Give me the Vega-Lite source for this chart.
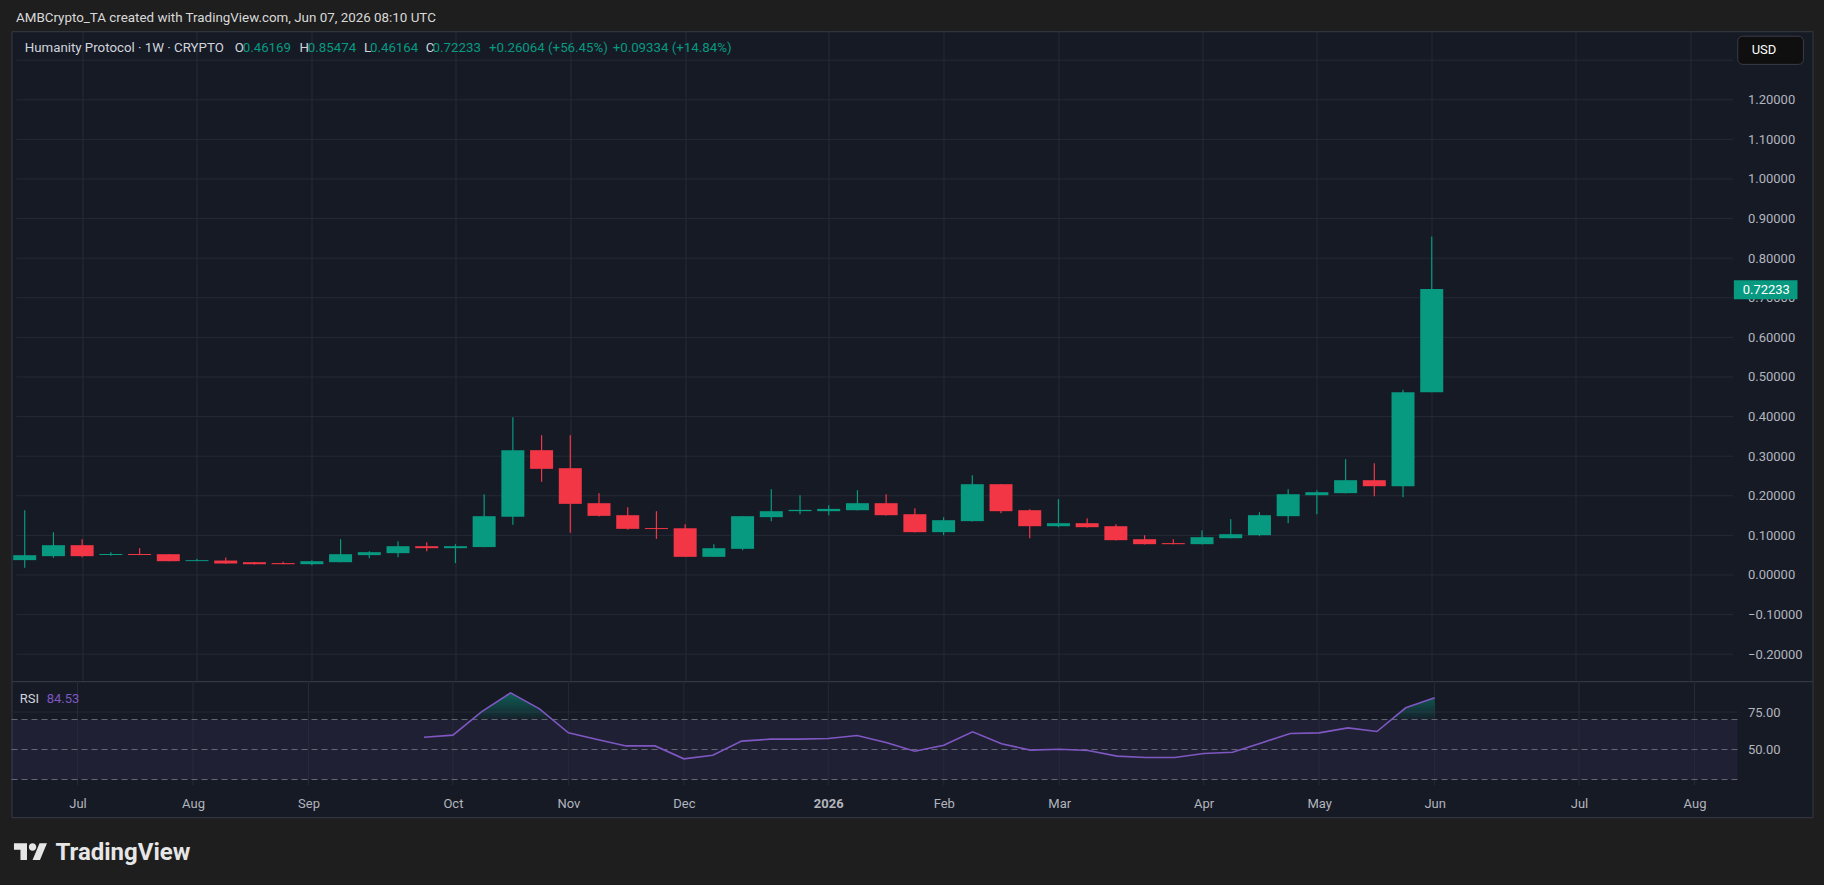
{
  "$schema": "https://vega.github.io/schema/vega-lite/v6.json",
  "background": "#1e1e1e",
  "padding": {"left": 10.5, "top": 10.2, "right": 12, "bottom": 25},
  "bounds": "flush",
  "spacing": 0,
  "config": {
    "font": "Roboto",
    "view": {"stroke": null},
    "axis": {"labelFont": "Roboto", "labelColor": "#b2b5be", "labelFontSize": 13, "title": null}
  },
  "datasets": {
    "candles": [
      {"w": "2025-06-23", "o": 0.0375, "h": 0.1636, "l": 0.018, "c": 0.05},
      {"w": "2025-06-30", "o": 0.0475, "h": 0.108, "l": 0.043, "c": 0.0753},
      {"w": "2025-07-07", "o": 0.0753, "h": 0.0904, "l": 0.045, "c": 0.0475},
      {"w": "2025-07-14", "o": 0.0505, "h": 0.0576, "l": 0.0483, "c": 0.053},
      {"w": "2025-07-21", "o": 0.053, "h": 0.0677, "l": 0.05, "c": 0.0505},
      {"w": "2025-07-28", "o": 0.0525, "h": 0.053, "l": 0.0345, "c": 0.0348},
      {"w": "2025-08-04", "o": 0.035, "h": 0.041, "l": 0.0345, "c": 0.0375},
      {"w": "2025-08-11", "o": 0.0365, "h": 0.0441, "l": 0.0285, "c": 0.029},
      {"w": "2025-08-18", "o": 0.0323, "h": 0.033, "l": 0.0265, "c": 0.0272},
      {"w": "2025-08-25", "o": 0.03, "h": 0.0332, "l": 0.0268, "c": 0.0272},
      {"w": "2025-09-01", "o": 0.0272, "h": 0.037, "l": 0.0247, "c": 0.0348},
      {"w": "2025-09-08", "o": 0.0323, "h": 0.0904, "l": 0.032, "c": 0.0525},
      {"w": "2025-09-15", "o": 0.0501, "h": 0.0601, "l": 0.0424, "c": 0.0576},
      {"w": "2025-09-22", "o": 0.0551, "h": 0.0854, "l": 0.045, "c": 0.0727},
      {"w": "2025-09-29", "o": 0.0727, "h": 0.0829, "l": 0.0601, "c": 0.0677},
      {"w": "2025-10-06", "o": 0.0677, "h": 0.0778, "l": 0.03, "c": 0.0727},
      {"w": "2025-10-13", "o": 0.0705, "h": 0.204, "l": 0.07, "c": 0.1485},
      {"w": "2025-10-20", "o": 0.1468, "h": 0.3985, "l": 0.1266, "c": 0.3152},
      {"w": "2025-10-27", "o": 0.3152, "h": 0.353, "l": 0.2352, "c": 0.268},
      {"w": "2025-11-03", "o": 0.2697, "h": 0.353, "l": 0.1064, "c": 0.1796},
      {"w": "2025-11-10", "o": 0.1813, "h": 0.2066, "l": 0.148, "c": 0.1493},
      {"w": "2025-11-17", "o": 0.151, "h": 0.1712, "l": 0.114, "c": 0.1165},
      {"w": "2025-11-24", "o": 0.1185, "h": 0.1611, "l": 0.0912, "c": 0.116},
      {"w": "2025-12-01", "o": 0.118, "h": 0.1283, "l": 0.0455, "c": 0.0458},
      {"w": "2025-12-08", "o": 0.0458, "h": 0.0778, "l": 0.0455, "c": 0.0677},
      {"w": "2025-12-15", "o": 0.066, "h": 0.1485, "l": 0.0626, "c": 0.1485},
      {"w": "2025-12-22", "o": 0.146, "h": 0.2167, "l": 0.1359, "c": 0.1611},
      {"w": "2025-12-29", "o": 0.1612, "h": 0.2015, "l": 0.1535, "c": 0.1645},
      {"w": "2026-01-05", "o": 0.1611, "h": 0.1763, "l": 0.151, "c": 0.1669},
      {"w": "2026-01-12", "o": 0.1636, "h": 0.2141, "l": 0.163, "c": 0.1813},
      {"w": "2026-01-19", "o": 0.1813, "h": 0.204, "l": 0.15, "c": 0.151},
      {"w": "2026-01-26", "o": 0.1535, "h": 0.1687, "l": 0.107, "c": 0.1081},
      {"w": "2026-02-02", "o": 0.1081, "h": 0.146, "l": 0.1005, "c": 0.1384},
      {"w": "2026-02-09", "o": 0.1359, "h": 0.252, "l": 0.135, "c": 0.2293},
      {"w": "2026-02-16", "o": 0.2293, "h": 0.2295, "l": 0.156, "c": 0.1611},
      {"w": "2026-02-23", "o": 0.1636, "h": 0.166, "l": 0.0929, "c": 0.1232},
      {"w": "2026-03-02", "o": 0.1232, "h": 0.1914, "l": 0.1207, "c": 0.1308},
      {"w": "2026-03-09", "o": 0.1308, "h": 0.1434, "l": 0.12, "c": 0.1207},
      {"w": "2026-03-16", "o": 0.1232, "h": 0.1283, "l": 0.087, "c": 0.0879},
      {"w": "2026-03-23", "o": 0.0904, "h": 0.1005, "l": 0.077, "c": 0.0778},
      {"w": "2026-03-30", "o": 0.0805, "h": 0.0904, "l": 0.0775, "c": 0.0778},
      {"w": "2026-04-06", "o": 0.0778, "h": 0.1131, "l": 0.077, "c": 0.0955},
      {"w": "2026-04-13", "o": 0.0929, "h": 0.1409, "l": 0.0925, "c": 0.103},
      {"w": "2026-04-20", "o": 0.1005, "h": 0.1586, "l": 0.098, "c": 0.151},
      {"w": "2026-04-27", "o": 0.1485, "h": 0.2167, "l": 0.1308, "c": 0.204},
      {"w": "2026-05-04", "o": 0.2015, "h": 0.2141, "l": 0.1536, "c": 0.2091},
      {"w": "2026-05-11", "o": 0.2066, "h": 0.2924, "l": 0.206, "c": 0.2394},
      {"w": "2026-05-18", "o": 0.2394, "h": 0.2823, "l": 0.199, "c": 0.2242},
      {"w": "2026-05-25", "o": 0.2242, "h": 0.468, "l": 0.1965, "c": 0.4617},
      {"w": "2026-06-01", "o": 0.46169, "h": 0.85474, "l": 0.46164, "c": 0.72233}
    ],
    "rsi": [
      {"w": "2025-09-29", "rsi": 58.2},
      {"w": "2025-10-06", "rsi": 59.6},
      {"w": "2025-10-13", "rsi": 75.3},
      {"w": "2025-10-20", "rsi": 87.8},
      {"w": "2025-10-27", "rsi": 77.1},
      {"w": "2025-11-03", "rsi": 61.1},
      {"w": "2025-11-10", "rsi": 56.7},
      {"w": "2025-11-17", "rsi": 52.4},
      {"w": "2025-11-24", "rsi": 52.4},
      {"w": "2025-12-01", "rsi": 43.8},
      {"w": "2025-12-08", "rsi": 46.2},
      {"w": "2025-12-15", "rsi": 55.6},
      {"w": "2025-12-22", "rsi": 56.9},
      {"w": "2025-12-29", "rsi": 56.9},
      {"w": "2026-01-05", "rsi": 57.3},
      {"w": "2026-01-12", "rsi": 59.3},
      {"w": "2026-01-19", "rsi": 54.7},
      {"w": "2026-01-26", "rsi": 48.9},
      {"w": "2026-02-02", "rsi": 52.9},
      {"w": "2026-02-09", "rsi": 61.8},
      {"w": "2026-02-16", "rsi": 53.8},
      {"w": "2026-02-23", "rsi": 49.6},
      {"w": "2026-03-02", "rsi": 50.2},
      {"w": "2026-03-09", "rsi": 49.3},
      {"w": "2026-03-16", "rsi": 45.6},
      {"w": "2026-03-23", "rsi": 44.7},
      {"w": "2026-03-30", "rsi": 44.7},
      {"w": "2026-04-06", "rsi": 47.3},
      {"w": "2026-04-13", "rsi": 48.2},
      {"w": "2026-04-20", "rsi": 54.4},
      {"w": "2026-04-27", "rsi": 60.7},
      {"w": "2026-05-04", "rsi": 61.1},
      {"w": "2026-05-11", "rsi": 64.4},
      {"w": "2026-05-18", "rsi": 62.0},
      {"w": "2026-05-25", "rsi": 77.8},
      {"w": "2026-06-01", "rsi": 84.53}
    ],
    "months": [
      {"w": "2025-07-07"}, {"w": "2025-08-04"}, {"w": "2025-09-01"}, {"w": "2025-10-06"},
      {"w": "2025-11-03"}, {"w": "2025-12-01"}, {"w": "2026-01-05"}, {"w": "2026-02-02"},
      {"w": "2026-03-02"}, {"w": "2026-04-06"}, {"w": "2026-05-04"}, {"w": "2026-06-01"},
      {"w": "2026-07-06"}, {"w": "2026-08-03"}
    ],
    "levels": [
      {"p": -0.2}, {"p": -0.1}, {"p": 0}, {"p": 0.1}, {"p": 0.2}, {"p": 0.3}, {"p": 0.4}, {"p": 0.5},
      {"p": 0.6}, {"p": 0.7}, {"p": 0.8}, {"p": 0.9}, {"p": 1.0}, {"p": 1.1}, {"p": 1.2}, {"p": 1.3}
    ],
    "legend": [
      {"t": "2025-06-23T00:00:00Z", "s": "Humanity Protocol · 1W · CRYPTO", "k": "label"},
      {"t": "2025-08-13T04:50:00Z", "s": "O", "k": "label"},
      {"t": "2025-08-15T03:20:00Z", "s": "0.46169", "k": "value"},
      {"t": "2025-08-28T23:30:00Z", "s": "H", "k": "label"},
      {"t": "2025-08-31T00:30:00Z", "s": "0.85474", "k": "value"},
      {"t": "2025-09-13T17:15:00Z", "s": "L", "k": "label"},
      {"t": "2025-09-15T04:00:00Z", "s": "0.46164", "k": "value"},
      {"t": "2025-09-28T18:00:00Z", "s": "C", "k": "label"},
      {"t": "2025-09-30T10:30:00Z", "s": "0.72233", "k": "value"},
      {"t": "2025-10-14T04:00:00Z", "s": "+0.26064 (+56.45%)", "k": "value"},
      {"t": "2025-11-13T07:40:00Z", "s": "+0.09334 (+14.84%)", "k": "value"}
    ]
  },
  "vconcat": [
    {
      "width": 1801,
      "height": 650,
      "view": {"fill": "#161a25", "stroke": "#363a45"},
      "layer": [
        {
          "data": {"name": "levels"},
          "mark": {"type": "rule", "color": "#262a36", "strokeWidth": 1},
          "encoding": {
            "y": {
              "field": "p", "type": "quantitative",
              "scale": {"domain": [-0.2682, 1.3732], "nice": false, "zero": false},
              "axis": {
                "orient": "right", "offset": -75, "grid": false, "ticks": false, "domain": false,
                "labelPadding": 10, "format": ".5f", "zindex": 0,
                "values": [-0.2, -0.1, 0, 0.1, 0.2, 0.3, 0.4, 0.5, 0.6, 0.7, 0.8, 0.9, 1.0, 1.1, 1.2]
              }
            },
            "x": {
              "datum": {"year": 2025, "month": 6, "date": 21, "utc": true}, "type": "temporal",
              "scale": {
                "domain": [
                  {"year": 2025, "month": 6, "date": 21, "utc": true},
                  {"year": 2026, "month": 8, "date": 31, "hours": 14, "minutes": 24, "utc": true}
                ],
                "nice": false
              },
              "axis": {
                "orient": "bottom", "grid": true, "gridColor": "#262a36", "labels": false, "ticks": false, "domain": false,
                "values": [
                  {"year": 2025, "month": 7, "date": 7, "utc": true},
                  {"year": 2025, "month": 8, "date": 4, "utc": true},
                  {"year": 2025, "month": 9, "date": 1, "utc": true},
                  {"year": 2025, "month": 10, "date": 6, "utc": true},
                  {"year": 2025, "month": 11, "date": 3, "utc": true},
                  {"year": 2025, "month": 12, "date": 1, "utc": true},
                  {"year": 2026, "month": 1, "date": 5, "utc": true},
                  {"year": 2026, "month": 2, "date": 2, "utc": true},
                  {"year": 2026, "month": 3, "date": 2, "utc": true},
                  {"year": 2026, "month": 4, "date": 6, "utc": true},
                  {"year": 2026, "month": 5, "date": 4, "utc": true},
                  {"year": 2026, "month": 6, "date": 1, "utc": true},
                  {"year": 2026, "month": 7, "date": 6, "utc": true},
                  {"year": 2026, "month": 8, "date": 3, "utc": true}
                ]
              }
            },
            "x2": {"datum": {"year": 2026, "month": 8, "date": 13, "hours": 9, "minutes": 50, "utc": true}}
          }
        },
        {
          "data": {"name": "candles"},
          "mark": {"type": "rule", "strokeWidth": 1.2},
          "encoding": {
            "x": {"field": "w", "type": "temporal"},
            "y": {"field": "l", "type": "quantitative"},
            "y2": {"field": "h"},
            "color": {"condition": {"test": "datum.c >= datum.o", "value": "#089981"}, "value": "#f23645"}
          }
        },
        {
          "data": {"name": "candles"},
          "mark": {"type": "bar", "size": 23},
          "encoding": {
            "x": {"field": "w", "type": "temporal"},
            "y": {"field": "o", "type": "quantitative"},
            "y2": {"field": "c"},
            "color": {"condition": {"test": "datum.c >= datum.o", "value": "#089981"}, "value": "#f23645"}
          }
        },
        {
          "data": {"values": [{"t": "2025-06-20T21:00:00Z", "s": "AMBCrypto_TA created with TradingView.com, Jun 07, 2026 08:10 UTC"}]},
          "mark": {"type": "text", "align": "left", "baseline": "middle", "fontSize": 13.4, "color": "#d9d9d9"},
          "encoding": {
            "x": {"field": "t", "type": "temporal"},
            "y": {"datum": 1.4068, "type": "quantitative"},
            "text": {"field": "s"}
          }
        },
        {
          "data": {"name": "legend"},
          "mark": {"type": "text", "align": "left", "baseline": "middle", "fontSize": 13.3},
          "encoding": {
            "x": {"field": "t", "type": "temporal"},
            "y": {"datum": 1.3311, "type": "quantitative"},
            "text": {"field": "s"},
            "color": {"condition": {"test": "datum.k == 'label'", "value": "#d1d4dc"}, "value": "#089981"}
          }
        },
        {
          "data": {"values": [{"a": "2026-08-14T14:24:00Z", "b": "2026-08-30T14:53:00Z"}]},
          "mark": {"type": "rect", "fill": "#0f0f0f", "stroke": "#3a3d46", "strokeWidth": 1, "cornerRadius": 5},
          "encoding": {
            "x": {"field": "a", "type": "temporal"},
            "x2": {"field": "b"},
            "y": {"datum": 1.3606, "type": "quantitative"},
            "y2": {"datum": 1.2894}
          }
        },
        {
          "data": {"values": [{"t": "2026-08-21T00:00:00Z", "s": "USD"}]},
          "mark": {"type": "text", "align": "center", "baseline": "middle", "fontSize": 13, "color": "#ffffff"},
          "encoding": {
            "x": {"field": "t", "type": "temporal"},
            "y": {"datum": 1.3253, "type": "quantitative"},
            "text": {"field": "s"}
          }
        },
        {
          "data": {"values": [{"a": "2026-08-13T15:36:00Z", "b": "2026-08-29T03:50:00Z"}]},
          "mark": {"type": "rect", "fill": "#089981"},
          "encoding": {
            "x": {"field": "a", "type": "temporal"},
            "x2": {"field": "b"},
            "y": {"datum": 0.7444, "type": "quantitative"},
            "y2": {"datum": 0.6965}
          }
        },
        {
          "data": {"values": [{"t": "2026-08-15T19:12:00Z", "s": "0.72233"}]},
          "mark": {"type": "text", "align": "left", "baseline": "middle", "fontSize": 13, "color": "#ffffff"},
          "encoding": {
            "x": {"field": "t", "type": "temporal"},
            "y": {"datum": 0.7205, "type": "quantitative"},
            "text": {"field": "s"}
          }
        }
      ]
    },
    {
      "width": 1801,
      "height": 136,
      "view": {"fill": "#161a25", "stroke": "#363a45"},
      "layer": [
        {
          "data": {"values": [{"a": "2025-06-21T00:00:00Z", "b": "2026-08-13T09:50:00Z"}]},
          "mark": {"type": "rect", "color": "#7e57c2", "opacity": 0.1},
          "encoding": {
            "x": {
              "field": "a", "type": "temporal",
              "scale": {
                "domain": [
                  {"year": 2025, "month": 6, "date": 21, "utc": true},
                  {"year": 2026, "month": 8, "date": 31, "hours": 14, "minutes": 24, "utc": true}
                ],
                "nice": false
              },
              "axis": {
                "orient": "bottom", "offset": -32, "grid": false, "ticks": false, "domain": false,
                "labelPadding": 18, "labelBaseline": "middle",
                "labelExpr": "utcmonth(datum.value) == 0 ? utcFormat(datum.value, '%Y') : utcFormat(datum.value, '%b')",
                "labelFontWeight": {"condition": {"test": "utcmonth(datum.value) == 0", "value": "bold"}, "value": "normal"},
                "values": [
                  {"year": 2025, "month": 7, "date": 7, "utc": true},
                  {"year": 2025, "month": 8, "date": 4, "utc": true},
                  {"year": 2025, "month": 9, "date": 1, "utc": true},
                  {"year": 2025, "month": 10, "date": 6, "utc": true},
                  {"year": 2025, "month": 11, "date": 3, "utc": true},
                  {"year": 2025, "month": 12, "date": 1, "utc": true},
                  {"year": 2026, "month": 1, "date": 5, "utc": true},
                  {"year": 2026, "month": 2, "date": 2, "utc": true},
                  {"year": 2026, "month": 3, "date": 2, "utc": true},
                  {"year": 2026, "month": 4, "date": 6, "utc": true},
                  {"year": 2026, "month": 5, "date": 4, "utc": true},
                  {"year": 2026, "month": 6, "date": 1, "utc": true},
                  {"year": 2026, "month": 7, "date": 6, "utc": true},
                  {"year": 2026, "month": 8, "date": 3, "utc": true}
                ]
              }
            },
            "x2": {"field": "b"},
            "y": {
              "datum": 30, "type": "quantitative",
              "scale": {"domain": [4.89, 95.55], "nice": false, "zero": false},
              "axis": {
                "orient": "right", "offset": -75, "grid": false, "ticks": false, "domain": false,
                "labelPadding": 10, "format": ".2f", "values": [50, 75]
              }
            },
            "y2": {"datum": 70}
          }
        },
        {
          "data": {"name": "months"},
          "mark": {"type": "rule", "color": "#262a36", "strokeWidth": 1},
          "encoding": {
            "x": {"field": "w", "type": "temporal"},
            "y": {"datum": 26.2, "type": "quantitative"},
            "y2": {"datum": 95.55}
          }
        },
        {
          "data": {"values": [{"a": "2025-06-21T00:00:00Z", "b": "2026-08-13T09:50:00Z", "v": 75}]},
          "mark": {"type": "rule", "color": "#262a36", "strokeWidth": 1},
          "encoding": {
            "x": {"field": "a", "type": "temporal"},
            "x2": {"field": "b"},
            "y": {"field": "v", "type": "quantitative"}
          }
        },
        {
          "data": {"values": [
            {"a": "2025-06-21T00:00:00Z", "b": "2026-08-13T09:50:00Z", "v": 30},
            {"a": "2025-06-21T00:00:00Z", "b": "2026-08-13T09:50:00Z", "v": 50},
            {"a": "2025-06-21T00:00:00Z", "b": "2026-08-13T09:50:00Z", "v": 70}
          ]},
          "mark": {"type": "rule", "color": "#787b86", "strokeWidth": 1, "strokeDash": [6, 4], "opacity": 0.8},
          "encoding": {
            "x": {"field": "a", "type": "temporal"},
            "x2": {"field": "b"},
            "y": {"field": "v", "type": "quantitative"}
          }
        },
        {
          "data": {"name": "rsi"},
          "mark": {
            "type": "area",
            "fill": {
              "gradient": "linear", "x1": 0, "y1": 0, "x2": 0, "y2": 1,
              "stops": [
                {"offset": 0, "color": "rgba(8,153,129,0.55)"},
                {"offset": 0.4, "color": "rgba(8,153,129,0.06)"},
                {"offset": 0.405, "color": "rgba(8,153,129,0)"},
                {"offset": 1, "color": "rgba(8,153,129,0)"}
              ]
            }
          },
          "encoding": {
            "x": {"field": "w", "type": "temporal"},
            "y": {"field": "rsi", "type": "quantitative"},
            "y2": {"datum": 70}
          }
        },
        {
          "data": {"name": "rsi"},
          "mark": {"type": "line", "color": "#7e57c2", "strokeWidth": 1.6},
          "encoding": {
            "x": {"field": "w", "type": "temporal"},
            "y": {"field": "rsi", "type": "quantitative"}
          }
        },
        {
          "data": {"values": [
            {"t": "2025-06-23T00:00:00Z", "s": "RSI", "k": "label"},
            {"t": "2025-06-29T12:30:00Z", "s": "84.53", "k": "value"}
          ]},
          "mark": {"type": "text", "align": "left", "baseline": "middle", "fontSize": 13},
          "encoding": {
            "x": {"field": "t", "type": "temporal"},
            "y": {"datum": 83.55, "type": "quantitative"},
            "text": {"field": "s"},
            "color": {"condition": {"test": "datum.k == 'label'", "value": "#d1d4dc"}, "value": "#7e57c2"}
          }
        },
        {
          "data": {"values": [{"t": "2025-06-25T14:15:00Z"}]},
          "mark": {
            "type": "point", "filled": true, "opacity": 1, "size": 1089, "color": "#e6e6e6",
            "shape": "M-0.211 0.507H-0.606V-0.113H-1V-0.507H-0.211ZM0.577 0.507H0.127L0.549 -0.507H1ZM-0.099 -0.282A0.225 0.225 0 1 0 0.352 -0.282A0.225 0.225 0 1 0 -0.099 -0.282Z"
          },
          "encoding": {
            "x": {"field": "t", "type": "temporal"},
            "y": {"datum": -18.05, "type": "quantitative"}
          }
        },
        {
          "data": {"values": [{"t": "2025-07-01T15:40:00Z", "s": "TradingView"}]},
          "mark": {"type": "text", "align": "left", "baseline": "alphabetic", "fontSize": 24, "fontWeight": "bold", "color": "#e6e6e6"},
          "encoding": {
            "x": {"field": "t", "type": "temporal"},
            "y": {"datum": -23.78, "type": "quantitative"},
            "text": {"field": "s"}
          }
        }
      ]
    }
  ]
}
